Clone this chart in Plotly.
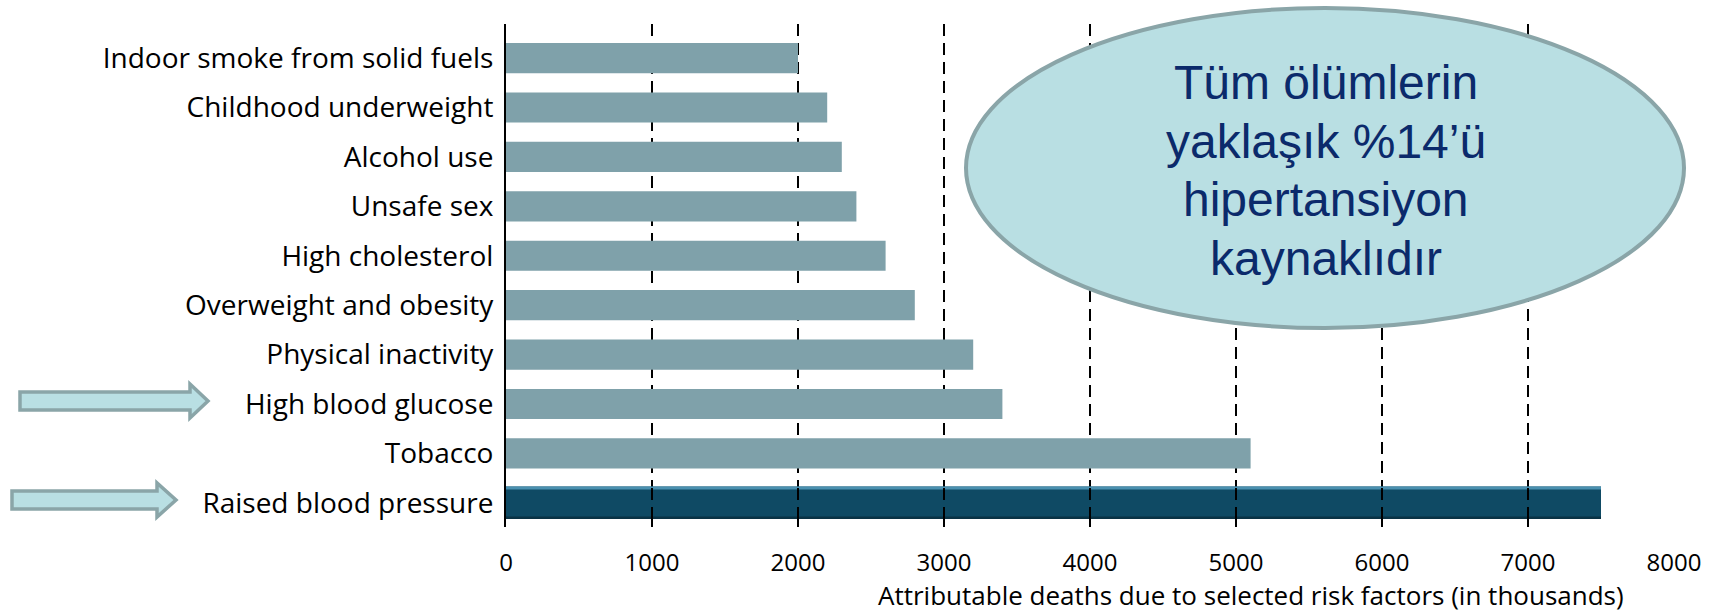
import plotly.graph_objects as go

# Risk factors, bottom row first (thousands of attributable deaths)
factors = [
    "Raised blood pressure",
    "Tobacco",
    "High blood glucose",
    "Physical inactivity",
    "Overweight and obesity",
    "High cholesterol",
    "Unsafe sex",
    "Alcohol use",
    "Childhood underweight",
    "Indoor smoke from solid fuels",
]
deaths = [7500, 5100, 3400, 3200, 2800, 2600, 2400, 2300, 2200, 2000]
x_ticks = [0, 1000, 2000, 3000, 4000, 5000, 6000, 7000, 8000]
callout_lines = ["Tüm ölümlerin", "yaklaşık %14’ü", "hipertansiyon", "kaynaklıdır"]
x_title = "Attributable deaths due to selected risk factors (in thousands)"

W, H = 1715, 612
L, R, T, B = 506, 41, 24, 85
PW, PH = W - L - R, H - T - B


def px(x):
    return (x - L) / PW


def py(y):
    return (H - B - y) / PH


BAR = "#7fa1aa"
DARK = "#0f4a64"
LABEL_FONT = "Open Sans, Lato"
top_idx = factors.index("Raised blood pressure")

colors = [DARK if f == "Raised blood pressure" else BAR for f in factors]
widths = [0.66 if f == "Raised blood pressure" else 0.61 for f in factors]

fig = go.Figure()
fig.add_trace(go.Bar(
    y=list(range(len(factors))), x=deaths, orientation="h",
    marker=dict(color=colors, line=dict(width=0)),
    width=widths, hoverinfo="skip", showlegend=False,
))

shapes = []
# bevel highlight along the top of the dark bar
hw = widths[top_idx] / 2
shapes.append(dict(type="rect", xref="x", yref="y", layer="above",
                   x0=0, x1=deaths[top_idx], y0=top_idx + hw - 0.06, y1=top_idx + hw,
                   fillcolor="#4a90b0", line=dict(width=0)))
shapes.append(dict(type="rect", xref="x", yref="y", layer="above",
                   x0=0, x1=deaths[top_idx], y0=top_idx - hw, y1=top_idx - hw + 0.05,
                   fillcolor="#0a3345", line=dict(width=0)))
# dashed grid stays visible across the dark bar
for t in x_ticks[1:]:
    if t < deaths[top_idx]:
        shapes.append(dict(type="line", xref="x", yref="y", layer="above",
                           x0=t, x1=t, y0=top_idx - hw, y1=top_idx + hw,
                           line=dict(color="black", width=2, dash="12px,7px")))


# block arrows pointing at flagged rows
def arrow(x0, x_shaft_end, x_tip, yc, shaft_h, head_h):
    pts = [
        (x0, yc - shaft_h / 2), (x_shaft_end, yc - shaft_h / 2), (x_shaft_end, yc - head_h / 2),
        (x_tip, yc), (x_shaft_end, yc + head_h / 2), (x_shaft_end, yc + shaft_h / 2),
        (x0, yc + shaft_h / 2),
    ]
    path = "M " + " L ".join(f"{px(a):.5f},{py(b):.5f}" for a, b in pts) + " Z"
    return dict(type="path", xref="paper", yref="paper", path=path,
                fillcolor="#b9dfe3", line=dict(color="#8aa5a8", width=3.5), layer="above")


shapes.append(arrow(20, 190, 208, 401, 18, 34))
shapes.append(arrow(12, 157, 176, 500, 18, 34))

# callout ellipse
shapes.append(dict(type="circle", xref="paper", yref="paper", layer="above",
                   x0=px(966), x1=px(1684), y0=py(328), y1=py(8),
                   fillcolor="#b9dfe3", line=dict(color="#8aa5a8", width=4)))

annotations = []
for line, yc in zip(callout_lines, [82, 141, 199, 258]):
    annotations.append(dict(
        xref="paper", yref="paper", x=px(1326), y=py(yc), xanchor="center", yanchor="middle",
        text=line, showarrow=False,
        font=dict(family="Liberation Sans, Arial", size=48, color="#0b2a6b"),
    ))
annotations.append(dict(
    xref="paper", yref="paper", x=px(1251), y=py(595), xanchor="center", yanchor="middle",
    text=x_title, showarrow=False, borderpad=0,
    font=dict(family=LABEL_FONT, size=26, color="black"),
))

fig.update_layout(
    width=W, height=H,
    margin=dict(l=L, r=R, t=T, b=B),
    paper_bgcolor="white", plot_bgcolor="white",
    shapes=shapes, annotations=annotations,
    xaxis=dict(
        range=[0, 8000], tickvals=x_ticks, ticktext=[str(v) for v in x_ticks],
        showgrid=True, gridcolor="black", gridwidth=2, griddash="12px,7px",
        zeroline=False, showline=False, ticks="", ticklabelstandoff=19,
        tickfont=dict(family=LABEL_FONT, size=24, color="black"),
        fixedrange=True,
    ),
    yaxis=dict(
        range=[-0.49, 9.69], tickvals=list(range(len(factors))), ticktext=factors,
        showgrid=False, zeroline=False, showline=True, linecolor="black", linewidth=2,
        ticks="", ticklabelstandoff=5,
        tickfont=dict(family=LABEL_FONT, size=28, color="black"),
        fixedrange=True,
    ),
)

fig.write_html("out.html")
